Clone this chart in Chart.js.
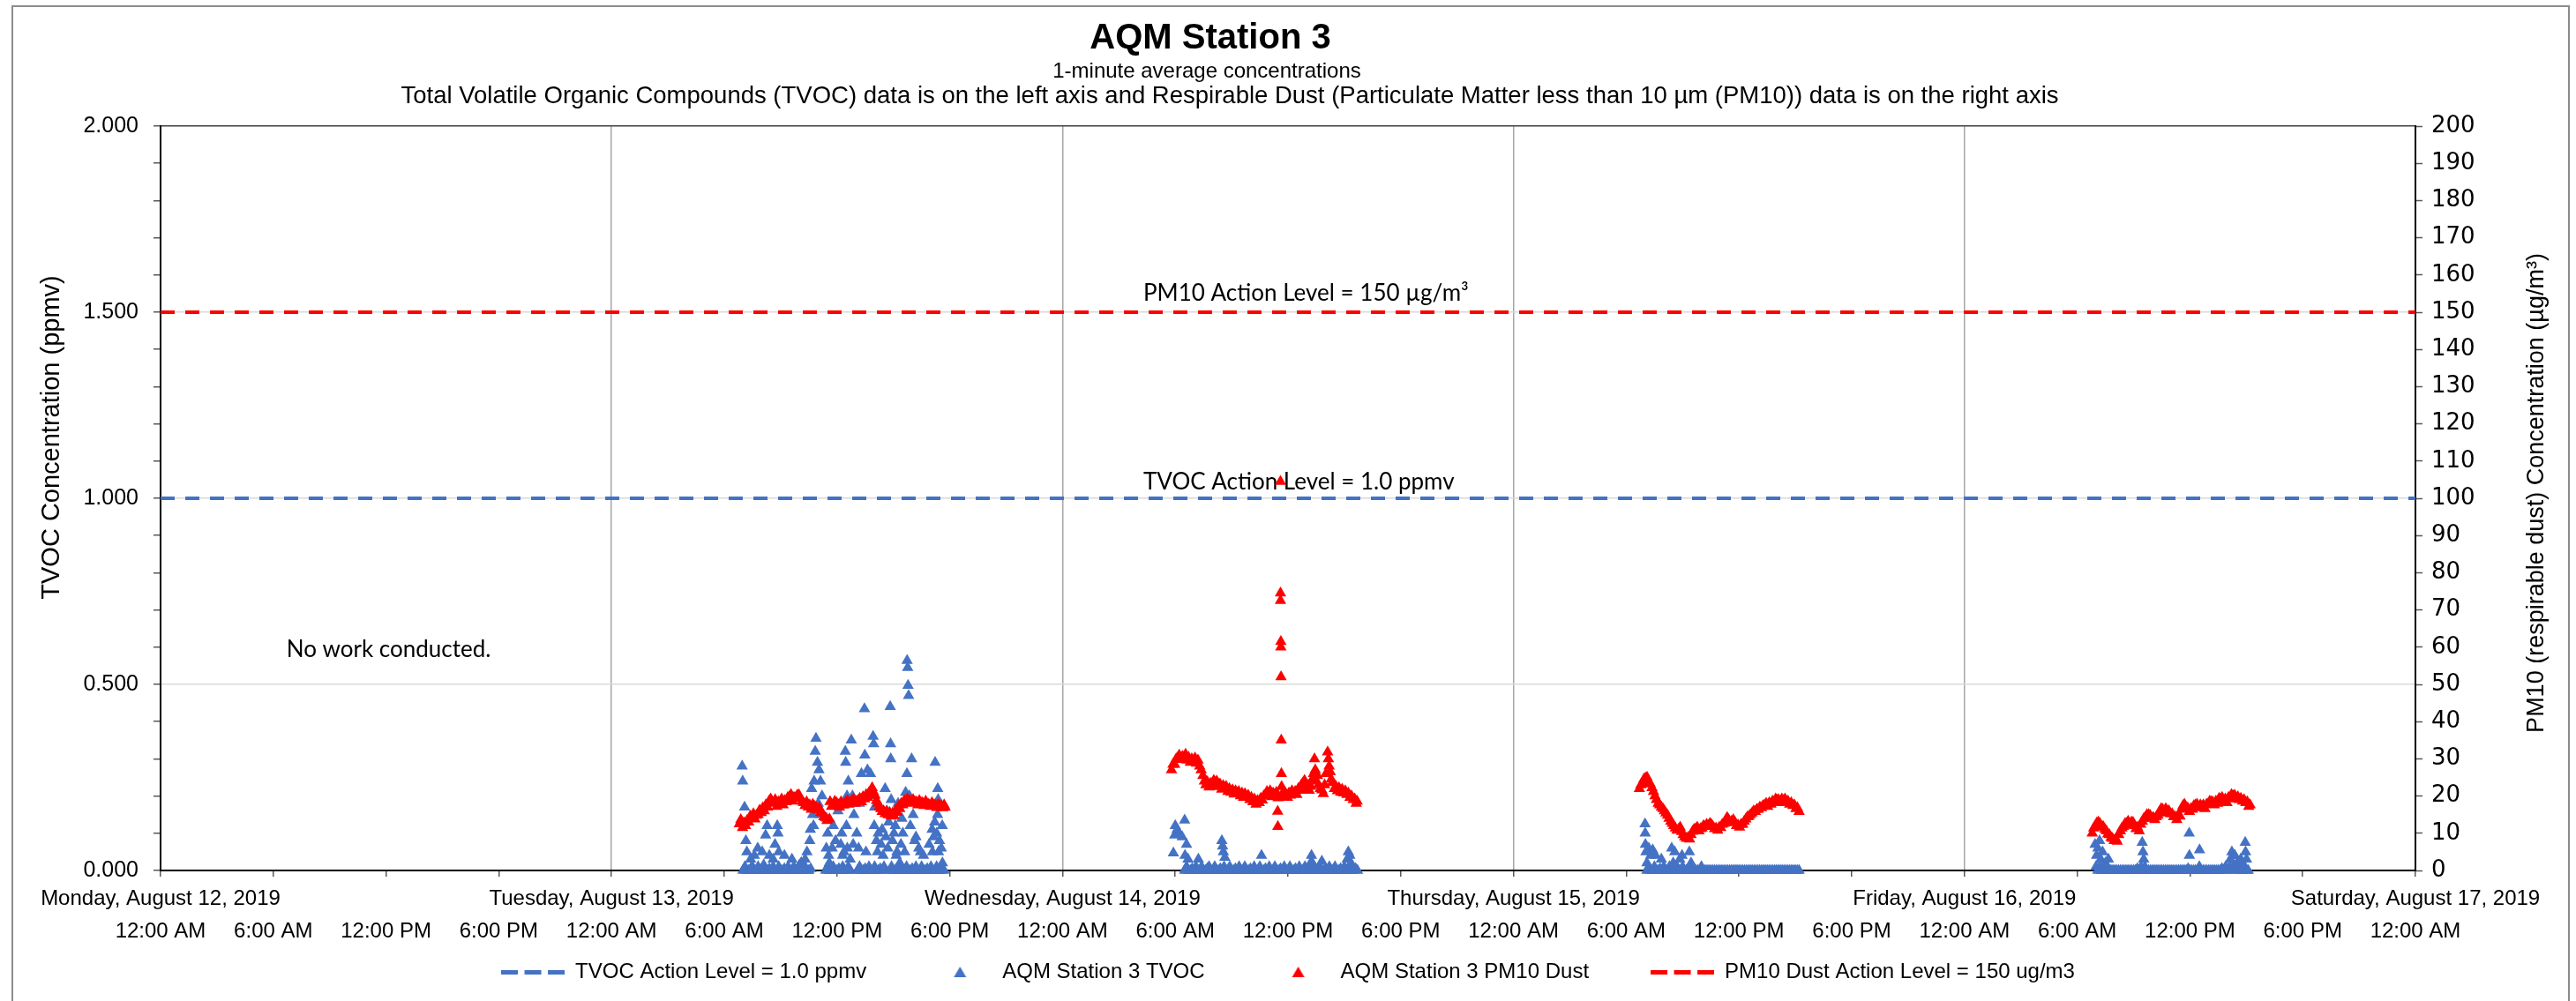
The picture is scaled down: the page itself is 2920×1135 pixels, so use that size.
<!DOCTYPE html>
<html>
<head>
<meta charset="utf-8">
<title>AQM Station 3</title>
<script src="https://cdn.jsdelivr.net/npm/chart.js@4.4.1/dist/chart.umd.min.js"></script>
<style>
  html, body { margin: 0; padding: 0; background: #fff; }
  #wrap { width: 2920px; height: 1135px; position: relative; }
</style>
</head>
<body>
<div id="wrap"><canvas id="chart"></canvas></div>
<script>
// x axis is hours counted from Monday 12:00 AM
const dayLabels = ['Monday, August 12, 2019', 'Tuesday, August 13, 2019', 'Wednesday, August 14, 2019',
  'Thursday, August 15, 2019', 'Friday, August 16, 2019', 'Saturday, August 17, 2019'];
const timeLabels = ['12:00 AM', '6:00 AM', '12:00 PM', '6:00 PM'];
const dayStart = { tue: 24, wed: 48, thu: 72, fri: 96 };

const tvocActionLevel = 1.0;   // ppmv
const pm10ActionLevel = 150;   // ug/m3

// TVOC readings above the baseline, [hour of day, ppmv]
const tvocTue = [[6.95,0.28],[6.98,0.24],[7.08,0.17],[7.15,0.08],[7.2,0.05],[7.4,0.03],[7.6,0.04],[7.78,0.06],[8.02,0.05],
  [8.2,0.095],[8.28,0.12],[8.4,0.04],[8.6,0.03],[8.7,0.07],[8.82,0.12],[8.86,0.1],[8.9,0.05],[9.2,0.04],[9.6,0.03],[10.1,0.02],
  [10.3,0.03],[10.4,0.05],[10.55,0.08],[10.58,0.11],[10.65,0.22],[10.7,0.15],[10.75,0.12],[10.78,0.24],[10.84,0.32],
  [10.88,0.355],[10.96,0.29],[11.0,0.18],[11.04,0.27],[11.1,0.15],[11.12,0.24],[11.2,0.2],[11.43,0.06],[11.45,0.14],[11.5,0.1],
  [11.55,0.04],[11.59,0.02],[11.74,0.06],[11.8,0.12],[11.92,0.08],[12.05,0.16],[12.2,0.07],[12.25,0.1],[12.3,0.04],[12.37,0.05],
  [12.44,0.32],[12.46,0.29],[12.5,0.12],[12.53,0.2],[12.55,0.06],[12.6,0.24],[12.7,0.03],[12.76,0.35],[12.82,0.2],[12.86,0.07],
  [12.9,0.15],[13.05,0.1],[13.15,0.06],[13.2,0.18],[13.3,0.26],[13.46,0.434],[13.48,0.31],[13.54,0.05],[13.62,0.27],[13.7,0.2],
  [13.78,0.26],[13.92,0.36],[13.95,0.34],[13.98,0.12],[14.0,0.17],[14.1,0.08],[14.15,0.05],[14.2,0.1],[14.35,0.07],[14.4,0.11],
  [14.45,0.04],[14.56,0.22],[14.6,0.09],[14.65,0.16],[14.7,0.06],[14.75,0.13],[14.83,0.44],[14.85,0.34],[14.86,0.3],
  [14.88,0.19],[14.95,0.08],[15.03,0.1],[15.1,0.12],[15.15,0.04],[15.19,0.05],[15.25,0.18],[15.34,0.02],[15.4,0.07],
  [15.45,0.14],[15.5,0.1],[15.6,0.05],[15.65,0.21],[15.72,0.26],[15.73,0.564],[15.76,0.545],[15.78,0.497],[15.81,0.47],
  [15.85,0.2],[15.9,0.12],[15.97,0.3],[16.05,0.15],[16.13,0.08],[16.2,0.09],[16.35,0.06],[16.44,0.05],[16.6,0.04],[16.9,0.07],
  [17.06,0.11],[17.08,0.05],[17.14,0.09],[17.2,0.13],[17.22,0.29],[17.3,0.1],[17.35,0.15],[17.36,0.22],[17.38,0.19],
  [17.4,0.05],[17.45,0.08],[17.55,0.06],[17.6,0.12],[17.61,0.02]];
const tvocWed = [[5.9,0.047],[5.97,0.095],[6.0,0.12],[6.1,0.11],[6.2,0.1],[6.37,0.09],[6.5,0.135],[6.52,0.04],[6.6,0.07],
  [6.68,0.03],[7.23,0.03],[8.48,0.08],[8.52,0.065],[8.56,0.05],[8.64,0.035],[10.59,0.04],[13.2,0.02],[13.25,0.04],[13.3,0.02],
  [13.8,0.025],[15.15,0.03],[15.21,0.05],[15.29,0.04],[15.35,0.02]];
const tvocThu = [[7.0,0.125],[7.01,0.1],[7.02,0.07],[7.05,0.05],[7.1,0.02],[7.2,0.06],[7.3,0.04],[7.41,0.055],[7.56,0.04],
  [7.87,0.03],[8.42,0.06],[8.5,0.02],[8.58,0.05],[8.85,0.03],[8.97,0.04],[9.36,0.05],[9.45,0.02]];
const tvocFri = [[6.95,0.07],[7.03,0.04],[7.1,0.06],[7.19,0.08],[7.25,0.03],[7.35,0.05],[7.5,0.02],[7.66,0.03],[9.46,0.075],
  [9.5,0.05],[9.54,0.03],[11.96,0.1],[11.97,0.04],[12.51,0.055],[14.15,0.03],[14.23,0.05],[14.3,0.04],[14.39,0.04],[14.5,0.02],
  [14.7,0.03],[14.8,0.02],[14.94,0.075],[14.96,0.05],[15.01,0.03]];

// TVOC readings at the baseline, [hour of day, ppmv]
const tvocBaseTue = [[7.0,0],[7.1,0.01],[7.2,0],[7.3,0],[7.4,0.005],[7.5,0.01],[7.6,0],[7.7,0],[7.8,0.01],[7.9,0],[8.0,0],
  [8.1,0.015],[8.2,0],[8.3,0],[8.4,0.005],[8.5,0],[8.6,0.01],[8.7,0],[8.8,0],[8.9,0.01],[9.0,0],[9.1,0],[9.2,0.005],[9.3,0],
  [9.4,0.01],[9.5,0],[9.6,0],[9.7,0.01],[9.8,0],[9.9,0],[10.0,0.015],[10.1,0.02],[10.2,0],[10.3,0.01],[10.4,0],[10.5,0],
  [10.6,0.005],[11.4,0],[11.5,0.01],[11.6,0],[11.7,0],[11.8,0.01],[11.9,0],[12.0,0],[12.1,0.005],[12.2,0],[12.3,0.01],[12.4,0],
  [12.5,0],[12.6,0.01],[12.7,0],[13.1,0],[13.2,0.01],[13.3,0],[13.4,0],[13.5,0.005],[13.6,0],[13.7,0.01],[13.8,0],[13.9,0],
  [14.0,0.01],[14.1,0],[14.2,0],[14.3,0.005],[14.4,0],[14.5,0.01],[14.8,0],[14.9,0.01],[15.0,0],[15.1,0],[15.2,0.005],[15.3,0],
  [15.4,0.01],[15.5,0],[15.6,0],[15.7,0.01],[15.8,0],[15.9,0],[16.0,0.005],[16.1,0],[16.2,0.01],[16.3,0],[16.4,0],[16.5,0.01],
  [16.6,0],[16.7,0],[16.8,0.005],[16.9,0],[17.0,0.01],[17.1,0],[17.2,0],[17.3,0.01],[17.4,0],[17.5,0],[17.6,0.005],[17.7,0]];
const tvocBaseWed = [[6.5,0],[6.6,0.01],[6.7,0],[6.8,0],[6.9,0.005],[7.0,0],[7.1,0.01],[7.2,0],[7.3,0],[7.4,0.01],[7.5,0],
  [7.6,0],[7.7,0.005],[7.8,0.01],[7.9,0],[8.0,0],[8.1,0.01],[8.2,0],[8.3,0],[8.4,0.005],[8.5,0],[8.6,0.01],[8.7,0],[8.8,0],
  [8.9,0.01],[9.0,0],[9.1,0],[9.2,0.005],[9.3,0],[9.4,0.01],[9.5,0],[9.6,0],[9.7,0.01],[9.8,0],[9.9,0],[10.0,0.005],[10.1,0],
  [10.2,0.01],[10.3,0],[10.4,0],[10.5,0.01],[10.6,0],[10.7,0],[10.8,0.005],[10.9,0],[11.0,0.01],[11.1,0],[11.2,0],[11.3,0.01],
  [11.4,0],[11.5,0],[11.6,0.005],[11.7,0],[11.8,0.01],[11.9,0],[12.0,0],[12.1,0.01],[12.2,0],[12.3,0],[12.4,0.005],[12.5,0],
  [12.6,0.01],[12.7,0],[12.8,0],[12.9,0.01],[13.0,0],[13.1,0],[13.2,0.005],[13.3,0],[13.4,0.01],[13.5,0],[13.6,0],[13.7,0.01],
  [13.8,0],[13.9,0],[14.0,0.005],[14.1,0],[14.2,0.01],[14.3,0],[14.4,0],[14.5,0.01],[14.6,0],[14.7,0],[14.8,0.005],[14.9,0],
  [15.0,0.01],[15.1,0],[15.2,0],[15.3,0.01],[15.4,0],[15.5,0],[15.6,0.005],[15.7,0]];
const tvocBaseThu = [[7.1,0],[7.2,0.01],[7.3,0],[7.4,0],[7.5,0.01],[7.6,0],[7.7,0],[7.8,0.005],[7.9,0],[8.0,0.01],[8.1,0],
  [8.2,0],[8.3,0.01],[8.4,0],[8.5,0],[8.6,0.005],[8.7,0.01],[8.8,0],[8.9,0],[9.0,0.01],[9.1,0],[9.2,0],[9.3,0.005],[9.4,0],
  [9.5,0.01],[9.6,0],[9.7,0],[9.8,0],[9.9,0],[10.0,0.01],[10.1,0],[10.2,0],[10.3,0],[10.4,0],[10.5,0],[10.6,0],[10.7,0],
  [10.8,0],[10.9,0],[11.0,0],[11.1,0],[11.2,0],[11.3,0],[11.4,0],[11.5,0],[11.6,0],[11.7,0],[11.8,0],[11.9,0],[12.0,0],
  [12.1,0],[12.2,0],[12.3,0],[12.4,0],[12.5,0],[12.6,0],[12.7,0],[12.8,0],[12.9,0],[13.0,0],[13.1,0],[13.2,0],[13.3,0],
  [13.4,0],[13.5,0],[13.6,0],[13.7,0],[13.8,0],[13.9,0],[14.0,0],[14.1,0],[14.2,0],[14.3,0],[14.4,0],[14.5,0],[14.6,0],
  [14.7,0],[14.8,0],[14.9,0],[15.0,0],[15.1,0],[15.2,0]];
const tvocBaseFri = [[7.0,0.01],[7.1,0],[7.2,0.01],[7.3,0],[7.4,0.01],[7.5,0],[7.6,0],[7.7,0],[7.8,0],[7.9,0],[8.0,0],
  [8.1,0],[8.2,0],[8.3,0],[8.4,0],[8.5,0],[8.6,0],[8.7,0],[8.8,0],[8.9,0],[9.0,0],[9.1,0],[9.2,0.005],[9.3,0],[9.4,0.01],
  [9.5,0],[9.6,0.01],[9.7,0],[9.8,0],[9.9,0],[10.0,0],[10.1,0],[10.2,0],[10.3,0],[10.4,0],[10.5,0],[10.6,0],[10.7,0],
  [10.8,0],[10.9,0],[11.0,0],[11.1,0],[11.2,0],[11.3,0],[11.4,0],[11.5,0],[11.6,0],[11.7,0],[11.8,0],[11.9,0.005],[12.0,0],
  [12.1,0],[12.2,0],[12.3,0],[12.4,0],[12.5,0.01],[12.6,0],[12.7,0],[12.8,0],[12.9,0],[13.0,0],[13.1,0],[13.2,0],[13.3,0],
  [13.4,0],[13.5,0],[13.6,0],[13.7,0.005],[13.8,0],[13.9,0.01],[14.0,0],[14.1,0.01],[14.2,0.005],[14.3,0.01],[14.4,0],
  [14.5,0.01],[14.6,0],[14.7,0.01],[14.8,0],[14.9,0.01],[15.0,0],[15.1,0]];

// PM10 readings, [hour of day, ug/m3]
const pm10Tue = [[6.8,12.5],[6.97,11.5],[7.13,12.0],[7.3,13.0],[7.47,14.5],[7.63,13.8],[7.8,15.0],[7.97,15.5],[8.13,16.0],
  [8.3,17.0],[8.47,19.2],[8.63,18.0],[8.8,17.2],[8.97,18.2],[9.13,17.6],[9.3,18.4],[9.47,19.8],[9.63,18.6],[9.8,19.5],
  [9.97,20.3],[10.13,18.6],[10.3,17.4],[10.47,17.0],[10.63,16.4],[10.8,17.2],[10.97,16.2],[11.13,15.6],[11.3,14.4],
  [11.47,13.4],[11.6,13.8],[11.63,18.5],[11.8,17.6],[11.97,18.2],[12.13,17.0],[12.3,17.6],[12.47,18.4],[12.63,17.8],
  [12.8,18.6],[12.97,18.0],[13.13,18.8],[13.3,18.4],[13.47,19.2],[13.63,19.6],[13.8,20.6],[13.93,21.2],[14.1,18.8],
  [14.25,17.0],[14.4,15.8],[14.56,15.2],[14.72,14.9],[14.88,14.6],[15.03,14.7],[15.2,15.6],[15.34,16.6],[15.5,17.6],
  [15.66,18.3],[15.81,18.7],[15.97,18.0],[16.13,18.4],[16.3,17.6],[16.47,18.1],[16.63,17.4],[16.8,17.8],[16.97,17.2],
  [17.13,17.6],[17.3,16.9],[17.47,17.3],[17.63,16.8],[17.75,17.0],
  [6.88,13.6],[7.05,12.8],[7.21,13.4],[7.38,14.6],[7.55,15.2],[7.71,14.8],[7.88,16.2],[8.05,16.8],[8.21,17.6],[8.38,18.6],
  [8.55,18.4],[8.71,19.0],[8.88,18.4],[9.05,19.2],[9.21,18.8],[9.38,19.6],[9.55,20.4],[9.71,19.6],[9.88,20.2],[10.05,19.4],
  [10.21,18.2],[10.38,18.4],[10.55,17.6],[10.71,17.8],[10.88,17.0],[11.05,16.8],[11.21,15.4],[11.38,14.2],[11.71,17.2],
  [11.88,18.6],[12.05,17.8],[12.21,18.4],[12.38,17.6],[12.55,18.8],[12.71,18.4],[12.88,19.2],[13.05,18.6],[13.21,19.4],
  [13.38,19.8],[13.55,20.4],[13.71,21.0],[13.87,22.2],[14.02,20.2],[14.18,18.0],[14.33,16.6],[14.48,16.0],[14.64,15.8],
  [14.8,15.6],[14.96,15.4],[15.12,16.2],[15.27,17.2],[15.42,18.0],[15.58,18.8],[15.74,19.2],[15.89,18.8],[16.05,19.0],
  [16.22,18.4],[16.38,18.8],[16.55,18.2],[16.72,18.6],[16.88,17.8],[17.05,18.2],[17.22,17.6],[17.38,17.8],[17.55,17.4],
  [17.7,17.6]];
const pm10Wed = [[5.8,27.0],[5.97,28.5],[6.13,30.2],[6.3,29.8],[6.47,30.5],[6.63,29.6],[6.8,29.0],[6.97,29.4],[7.13,28.8],
  [7.3,28.0],[7.47,25.5],[7.63,23.0],[7.8,22.4],[7.97,22.8],[8.13,23.6],[8.3,22.5],[8.47,21.8],[8.63,22.2],[8.8,21.2],
  [8.97,21.0],[9.13,20.5],[9.3,20.8],[9.47,20.0],[9.63,19.6],[9.8,19.8],[9.97,19.0],[10.13,18.4],[10.3,17.8],[10.47,18.2],
  [10.63,18.9],[10.8,20.2],[10.97,20.8],[11.13,19.8],[11.3,20.3],[11.45,15.9],[11.46,11.8],[11.47,19.5],[11.6,104.5],
  [11.6,74.5],[11.6,72.5],[11.62,61.5],[11.62,60.0],[11.63,52.0],[11.64,35.0],[11.65,26.0],[11.66,22.5],[11.8,20.0],
  [11.97,19.6],[12.13,20.2],[12.3,20.6],[12.47,20.4],[12.63,21.5],[12.8,23.5],[12.97,22.0],[13.13,21.5],[13.3,24.5],
  [13.41,30.0],[13.45,27.0],[13.5,24.0],[13.57,25.5],[13.72,22.0],[13.88,20.6],[14.02,26.0],[14.11,31.8],[14.15,30.0],
  [14.19,28.0],[14.25,26.5],[14.3,24.5],[14.47,22.0],[14.63,21.4],[14.8,21.0],[14.97,20.8],[15.13,20.4],[15.3,19.6],
  [15.47,19.0],[15.63,18.0],
  [5.88,28.5],[6.05,30.0],[6.21,31.0],[6.38,30.6],[6.55,31.2],[6.71,30.4],[6.88,30.0],[7.05,30.2],[7.21,29.6],[7.38,27.0],
  [7.55,24.0],[7.71,23.8],[7.88,23.4],[8.05,24.2],[8.21,24.0],[8.38,23.2],[8.55,22.8],[8.71,22.6],[8.88,22.0],[9.05,21.6],
  [9.21,21.4],[9.38,21.2],[9.55,20.8],[9.71,20.6],[9.88,20.2],[10.05,19.6],[10.21,19.2],[10.38,18.8],[10.55,19.4],
  [10.71,20.0],[10.88,21.2],[11.05,21.4],[11.21,20.8],[11.38,21.0],[11.72,20.8],[11.88,20.6],[12.05,20.8],[12.21,21.4],
  [12.38,21.2],[12.55,22.0],[12.71,23.0],[12.88,24.2],[13.05,22.8],[13.21,22.6],[13.36,26.0],[13.63,23.0],[13.8,21.6],
  [13.95,23.0],[14.35,23.6],[14.55,22.6],[14.71,22.2],[14.88,21.8],[15.05,21.4],[15.21,20.8],[15.38,20.0],[15.55,19.2],
  [15.68,18.6]];
const pm10Thu = [[6.7,22.0],[6.87,23.5],[7.03,24.8],[7.2,23.8],[7.37,22.2],[7.53,20.0],[7.7,18.0],[7.87,17.0],[8.03,16.0],
  [8.2,14.8],[8.37,13.2],[8.53,12.0],[8.7,10.8],[8.87,11.6],[9.03,9.6],[9.2,8.6],[9.37,8.4],[9.53,10.5],[9.7,11.2],
  [9.87,10.6],[10.03,11.4],[10.2,11.8],[10.37,12.0],[10.53,12.4],[10.7,11.2],[10.87,10.8],[11.03,11.5],[11.2,12.6],
  [11.37,14.2],[11.53,12.8],[11.7,13.6],[11.87,12.0],[12.03,11.6],[12.2,12.4],[12.37,13.8],[12.53,14.5],[12.7,15.4],
  [12.87,15.8],[13.03,16.4],[13.2,16.8],[13.37,17.6],[13.53,17.2],[13.7,17.8],[13.87,18.4],[14.03,18.9],[14.2,18.2],
  [14.37,18.8],[14.53,18.5],[14.7,17.8],[14.87,17.4],[15.03,16.6],[15.2,15.8],
  [6.78,23.0],[6.95,24.6],[7.11,25.0],[7.28,23.2],[7.45,21.2],[7.61,19.0],[7.78,17.6],[7.95,16.6],[8.11,15.4],[8.28,14.0],
  [8.45,12.6],[8.61,11.4],[8.78,11.0],[8.95,10.4],[9.11,9.0],[9.28,8.8],[9.45,9.6],[9.61,11.0],[9.78,11.6],[9.95,11.2],
  [10.11,12.0],[10.28,12.4],[10.45,12.6],[10.61,11.8],[10.78,11.4],[10.95,11.6],[11.11,12.4],[11.28,13.4],[11.45,13.6],
  [11.61,13.2],[11.78,13.0],[11.95,12.2],[12.11,12.4],[12.28,13.2],[12.45,14.4],[12.61,15.0],[12.78,16.0],[12.95,16.4],
  [13.11,17.0],[13.28,17.4],[13.45,18.0],[13.61,18.2],[13.78,18.6],[13.95,19.2],[14.11,19.0],[14.28,19.2],[14.45,19.2],
  [14.61,18.6],[14.78,18.2],[14.95,17.6],[15.11,16.8]];
const pm10Fri = [[6.8,10.0],[6.97,12.0],[7.13,13.0],[7.3,11.6],[7.47,11.0],[7.63,9.8],[7.8,8.8],[7.97,8.0],[8.13,7.8],
  [8.3,10.6],[8.47,11.8],[8.63,12.6],[8.8,12.2],[8.97,12.9],[9.13,11.2],[9.3,10.6],[9.47,13.2],[9.63,14.2],[9.8,15.0],
  [9.97,14.0],[10.13,13.6],[10.3,14.8],[10.47,16.6],[10.63,15.4],[10.8,16.0],[10.97,15.2],[11.13,14.4],[11.3,13.6],
  [11.47,14.6],[11.63,17.4],[11.8,16.8],[11.97,15.8],[12.13,16.4],[12.3,17.6],[12.47,16.8],[12.63,17.2],[12.8,16.6],
  [12.97,17.8],[13.13,18.4],[13.3,17.6],[13.47,18.0],[13.63,19.2],[13.8,18.6],[13.97,18.2],[14.13,19.4],[14.3,20.0],
  [14.47,19.2],[14.63,19.0],[14.8,18.6],[14.97,18.2],[15.13,17.2],
  [6.88,11.4],[7.05,12.8],[7.21,12.6],[7.38,11.8],[7.55,10.6],[7.71,9.6],[7.88,8.6],[8.05,8.4],[8.21,9.6],[8.38,11.4],
  [8.55,12.6],[8.71,13.2],[8.88,13.0],[9.05,12.0],[9.21,11.6],[9.38,12.4],[9.55,14.0],[9.71,15.0],[9.88,14.8],[10.05,14.2],
  [10.21,14.4],[10.38,15.8],[10.55,16.4],[10.71,16.6],[10.88,16.0],[11.05,15.2],[11.21,14.4],[11.38,14.8],[11.55,16.4],
  [11.71,17.8],[11.88,16.8],[12.05,16.6],[12.21,17.4],[12.38,17.8],[12.55,17.6],[12.71,17.6],[12.88,17.8],[13.05,18.6],
  [13.21,18.4],[13.38,18.6],[13.55,19.4],[13.71,19.6],[13.88,19.2],[14.05,19.6],[14.21,20.4],[14.38,20.2],[14.55,19.8],
  [14.71,19.4],[14.88,19.0],[15.05,18.4],[15.2,17.6]];

const blue = '#4472C4';
const red = '#FF0000';
const arial = '"Liberation Sans", Arial, sans-serif';

function toPoints(list, start) {
  return list.map((p) => ({ x: start + p[0], y: p[1] }));
}

const tvocPoints = [].concat(
  toPoints(tvocBaseTue, dayStart.tue), toPoints(tvocTue, dayStart.tue),
  toPoints(tvocBaseWed, dayStart.wed), toPoints(tvocWed, dayStart.wed),
  toPoints(tvocBaseThu, dayStart.thu), toPoints(tvocThu, dayStart.thu),
  toPoints(tvocBaseFri, dayStart.fri), toPoints(tvocFri, dayStart.fri));
const pm10Points = [].concat(
  toPoints(pm10Tue, dayStart.tue), toPoints(pm10Wed, dayStart.wed),
  toPoints(pm10Thu, dayStart.thu), toPoints(pm10Fri, dayStart.fri));

function isMultiple(v, step) {
  return Math.abs(v / step - Math.round(v / step)) < 1e-6;
}

// small legend symbols: a dashed stroke and a filled triangle
function dashMarker(color) {
  const c = document.createElement('canvas');
  c.width = 72;
  c.height = 5;
  const g = c.getContext('2d');
  g.strokeStyle = color;
  g.lineWidth = 5;
  g.setLineDash([19, 7.5]);
  g.beginPath();
  g.moveTo(0, 2.5);
  g.lineTo(72, 2.5);
  g.stroke();
  return c;
}

function triangleMarker(color) {
  const c = document.createElement('canvas');
  c.width = 16;
  c.height = 14;
  const g = c.getContext('2d');
  g.fillStyle = color;
  g.beginPath();
  g.moveTo(8, 1);
  g.lineTo(15, 13);
  g.lineTo(1, 13);
  g.closePath();
  g.fill();
  return c;
}

const legendMarkers = [dashMarker(blue), triangleMarker(blue), triangleMarker(red), dashMarker(red)];

// titles, axis titles, notes and the outer frame
const textPlugin = {
  id: 'texts',
  beforeDraw(chart) {
    const ctx = chart.ctx;
    ctx.save();
    ctx.fillStyle = '#fff';
    ctx.fillRect(0, 0, chart.width, chart.height);
    ctx.strokeStyle = '#8c8c8c';
    ctx.lineWidth = 2;
    ctx.strokeRect(14, 7, 2898, 1140);
    ctx.restore();
  },
  beforeDatasetsDraw(chart) {
    const ctx = chart.ctx;
    const x = chart.scales.x;
    const y = chart.scales.y;
    const y1 = chart.scales.y1;
    ctx.save();
    ctx.fillStyle = '#000';
    ctx.textAlign = 'left';
    ctx.textBaseline = 'alphabetic';
    ctx.font = '26px Lato, "Open Sans", sans-serif';
    ctx.fillText('No work conducted.', x.getPixelForValue(6.7), y.getPixelForValue(0.573));
    ctx.fillText('TVOC Action Level = 1.0 ppmv', x.getPixelForValue(52.3), y.getPixelForValue(tvocActionLevel) - 10);
    ctx.fillText('PM10 Action Level = 150 µg/m³', x.getPixelForValue(52.3), y1.getPixelForValue(pm10ActionLevel) - 13);
    ctx.restore();
  },
  afterDraw(chart) {
    const ctx = chart.ctx;
    ctx.save();
    ctx.fillStyle = '#000';
    ctx.textAlign = 'center';
    ctx.textBaseline = 'alphabetic';
    ctx.font = 'bold 40px ' + arial;
    ctx.fillText('AQM Station 3', 1372, 55);
    ctx.font = '24px ' + arial;
    ctx.fillText('1-minute average concentrations', 1368, 88);
    ctx.font = '27.5px ' + arial;
    ctx.fillText('Total Volatile Organic Compounds (TVOC) data is on the left axis and Respirable Dust (Particulate Matter less than 10 µm (PM10)) data is on the right axis', 1394, 117);

    ctx.font = '29px ' + arial;
    ctx.textBaseline = 'middle';
    ctx.translate(59, 496);
    ctx.rotate(-Math.PI / 2);
    ctx.fillText('TVOC Concentration (ppmv)', 0, 0);
    ctx.restore();

    ctx.save();
    ctx.fillStyle = '#000';
    ctx.textAlign = 'center';
    ctx.textBaseline = 'middle';
    ctx.font = '27px ' + arial;
    ctx.translate(2876, 559);
    ctx.rotate(-Math.PI / 2);
    ctx.fillText('PM10 (respirable dust) Concentration (µg/m³)', 0, 0);
    ctx.restore();
  }
};

const config = {
  type: 'scatter',
  data: {
    datasets: [
      {
        label: 'TVOC Action Level = 1.0 ppmv',
        data: [{ x: 0, y: tvocActionLevel }, { x: 120, y: tvocActionLevel }],
        yAxisID: 'y',
        showLine: true,
        borderColor: blue,
        backgroundColor: blue,
        borderWidth: 4,
        borderDash: [16, 12],
        pointRadius: 0,
        order: 2,
      },
      {
        label: 'AQM Station 3 TVOC',
        data: tvocPoints,
        yAxisID: 'y',
        backgroundColor: blue,
        borderWidth: 0,
        pointStyle: 'triangle',
        pointRadius: 7.5,
        clip: false,
        order: 1,
      },
      {
        label: 'AQM Station 3 PM10 Dust',
        data: pm10Points,
        yAxisID: 'y1',
        backgroundColor: red,
        borderWidth: 0,
        pointStyle: 'triangle',
        pointRadius: 7.5,
        clip: false,
        order: 0,
      },
      {
        label: 'PM10 Dust Action Level = 150 ug/m3',
        data: [{ x: 0, y: pm10ActionLevel }, { x: 120, y: pm10ActionLevel }],
        yAxisID: 'y1',
        showLine: true,
        borderColor: red,
        backgroundColor: red,
        borderWidth: 4,
        borderDash: [16, 12],
        pointRadius: 0,
        order: 2,
      },
    ],
  },
  options: {
    responsive: true,
    maintainAspectRatio: false,
    animation: false,
    events: [],
    layout: { padding: { top: 143, left: 0, right: 0, bottom: 11 } },
    plugins: {
      title: { display: false },
      tooltip: { enabled: false },
      legend: {
        position: 'bottom',
        labels: {
          color: '#000',
          font: { family: arial, size: 24 },
          usePointStyle: true,
          pointStyleWidth: 72,
          boxHeight: 10,
          padding: 70,
          generateLabels: (chart) => {
            const items = Chart.defaults.plugins.legend.labels.generateLabels(chart);
            items.forEach((item) => { item.pointStyle = legendMarkers[item.datasetIndex]; });
            return items;
          },
          sort: (a, b) => a.datasetIndex - b.datasetIndex,
        },
      },
    },
    scales: {
      x: {
        type: 'linear',
        min: 0,
        max: 120,
        afterFit: (scale) => { scale.height = 33; },
        border: { color: '#000', width: 2 },
        grid: {
          color: (c) => (c.tick && isMultiple(c.tick.value, 24) ? '#a6a6a6' : 'rgba(0,0,0,0)'),
          lineWidth: 1.5,
          tickColor: '#595959',
          tickLength: 7,
          tickWidth: 1.5,
        },
        ticks: {
          stepSize: 6,
          autoSkip: false,
          maxRotation: 0,
          minRotation: 0,
          // mirror keeps the two label rows from being clipped to the short axis box;
          // a mirrored row is drawn upwards, so the negative padding pushes it back below the axis
          mirror: true,
          padding: -50.5,
          color: '#000',
          font: { family: arial, size: 24, lineHeight: 1.54 },
          callback: (v) => {
            const hour = Math.round(v);
            const time = timeLabels[(hour % 24) / 6];
            return hour % 24 === 0 ? [dayLabels[hour / 24], time] : ['', time];
          },
        },
      },
      y: {
        position: 'left',
        min: 0,
        max: 2,
        afterFit: (scale) => { scale.width = 182; },
        border: { color: '#000', width: 2 },
        grid: {
          color: (c) => {
            if (!c.tick) return 'rgba(0,0,0,0)';
            if (isMultiple(c.tick.value, 2)) return '#404040';
            return isMultiple(c.tick.value, 0.5) ? '#d9d9d9' : 'rgba(0,0,0,0)';
          },
          lineWidth: 1.5,
          tickColor: '#595959',
          tickLength: 8,
          tickWidth: 1.5,
        },
        ticks: {
          stepSize: 0.1,
          autoSkip: false,
          padding: 17,
          color: '#000',
          font: { family: arial, size: 25 },
          callback: (v) => (isMultiple(v, 0.5) ? v.toFixed(3) : ''),
        },
      },
      y1: {
        position: 'right',
        min: 0,
        max: 200,
        afterFit: (scale) => { scale.width = 182; },
        border: { color: '#000', width: 2 },
        grid: {
          drawOnChartArea: false,
          tickColor: '#595959',
          tickLength: 8,
          tickWidth: 1.5,
        },
        ticks: {
          stepSize: 10,
          autoSkip: false,
          padding: 10,
          color: '#000',
          font: { family: '"DejaVu Sans", sans-serif', size: 26 },
        },
      },
    },
  },
  plugins: [textPlugin],
};

const myChart = new Chart(document.getElementById('chart'), config);
</script>
</body>
</html>
